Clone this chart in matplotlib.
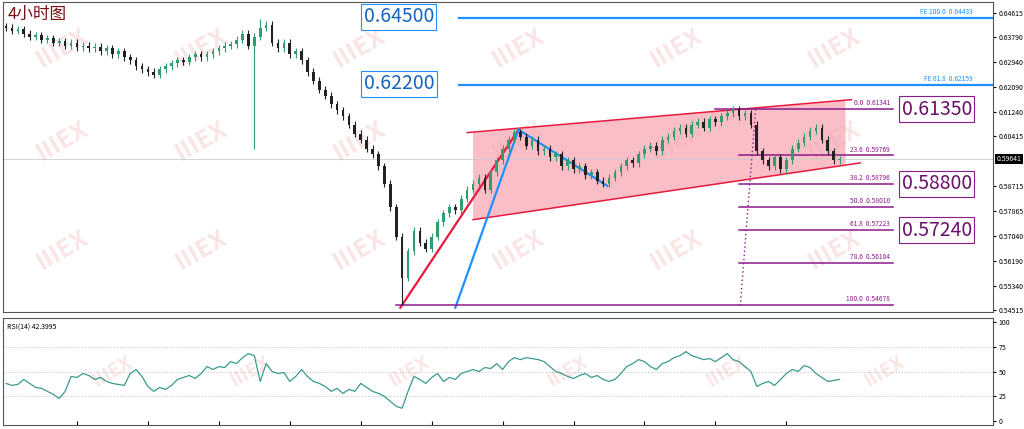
"""4-hour candle chart with channel, Fibonacci levels and RSI panel."""

import matplotlib
matplotlib.use("Agg")
import matplotlib.pyplot as plt
from matplotlib.patches import Polygon

plt.rcParams["font.family"] = ["Noto Sans CJK SC", "DejaVu Sans"]

closes = [
    0.641, 0.640, 0.6405, 0.639, 0.638, 0.6385, 0.637, 0.6375,
    0.636, 0.6365, 0.635, 0.636, 0.6345, 0.635, 0.634, 0.6345,
    0.633, 0.634, 0.632, 0.633, 0.631, 0.630, 0.628, 0.627, 0.626, 0.625,
    0.627, 0.628, 0.629, 0.630, 0.6295, 0.631, 0.632,
    0.631, 0.632, 0.633, 0.634, 0.635, 0.6355, 0.637,
    0.639, 0.635, 0.638, 0.641, 0.642,
    0.636, 0.634, 0.636, 0.632, 0.633, 0.630,
    0.626, 0.623, 0.620, 0.618, 0.615, 0.613,
    0.611, 0.608, 0.605, 0.603, 0.600, 0.598,
    0.594, 0.588, 0.580, 0.570,
    0.556, 0.565, 0.572, 0.568, 0.566, 0.570, 0.575, 0.578, 0.580, 0.579,
    0.583, 0.586, 0.588, 0.590, 0.586, 0.592, 0.596, 0.600, 0.603, 0.6055,
    0.604, 0.601, 0.603, 0.599, 0.600, 0.597, 0.598, 0.594, 0.596,
    0.593, 0.594, 0.591, 0.592, 0.589, 0.588,
    0.590, 0.592, 0.594, 0.596, 0.595, 0.598, 0.600,
    0.601, 0.599, 0.603, 0.604, 0.606, 0.607, 0.605,
    0.608, 0.609, 0.607, 0.610, 0.609, 0.611,
    0.612, 0.6134, 0.611, 0.612, 0.608,
    0.599, 0.596, 0.594, 0.597, 0.593,
    0.596, 0.600, 0.602, 0.604, 0.606,
    0.607, 0.603, 0.599, 0.596, 0.5964,
]
first_open = 0.6415
wick_spikes = {42: 0.600, 67: 0.5468, 43: 0.644}

rsi = [
    38, 36, 37, 42, 38, 34, 33, 30, 27, 23,
    30, 45, 44, 48, 46, 42, 44, 40, 38, 37,
    36, 48, 52, 45, 35, 30, 34, 32, 36, 42,
    44, 46, 43, 48, 55, 52, 55, 54, 60, 58,
    64, 68, 66, 40, 58, 50, 48, 49, 40, 45,
    52, 45, 40, 38, 35, 30, 33, 28, 32, 30,
    38, 34, 30, 28, 25, 20, 15, 13, 30, 45,
    42, 38, 44, 48, 40, 44, 42, 48, 50, 52,
    50, 54, 53, 58, 52, 60, 64, 62, 64, 63,
    62, 60, 55, 50, 48, 45, 43, 46, 48, 44,
    46, 42, 40, 42, 48, 55, 58, 62, 60, 55,
    52, 58, 60, 64, 66, 70, 66, 64, 62, 63,
    60, 64, 68, 62, 60, 55, 50, 35, 38, 40,
    36, 42, 48, 52, 50, 56, 54, 48, 44, 40,
    41, 42,
]

price_ticks = [0.64615, 0.63790, 0.62940, 0.62090, 0.61240, 0.60415,
               0.58715, 0.57865, 0.57040, 0.56190, 0.55340, 0.54515]
last_price = 0.59641

fib_ratios = [0.0, 23.6, 38.2, 50.0, 61.8, 78.6, 100.0]
fib_prices = [0.61341, 0.59769, 0.58796, 0.58010, 0.57223, 0.56104, 0.54678]
fe_labels = ["FE 100.0  0.64433", "FE 61.8  0.62159"]
fe_prices = [0.64433, 0.62159]
target_boxes = ["0.64500", "0.62200"]
fib_boxes = {0.61341: "0.61350", 0.58796: "0.58800", 0.57223: "0.57240"}

fig = plt.figure(figsize=(10.24, 4.29), dpi=100)
ax = fig.add_axes([0.003, 0.273, 0.967, 0.723])
rx = fig.add_axes([0.003, 0.009, 0.967, 0.250])

PURPLE = "#8b1a8b"
BLUE = "#1e90ff"
RED = "#e8193c"

# watermarks
for xx in [0.06, 0.2, 0.36, 0.52, 0.68, 0.84]:
    for yy in [0.2, 0.55, 0.85]:
        ax.text(xx, yy, "IIIEX", transform=ax.transAxes, fontsize=18,
                fontweight="bold", color="#f5d0d0", alpha=0.55, rotation=30,
                ha="center", va="center", zorder=0)
    rx.text(xx + 0.05, 0.5, "IIIEX", transform=rx.transAxes, fontsize=14,
            fontweight="bold", color="#f5d0d0", alpha=0.55, rotation=30,
            ha="center", va="center", zorder=0)

# channel
up = [(78, 0.6054), (143, 0.6166)]
lo = [(79, 0.5758), (144.5, 0.5951)]
ax.add_patch(Polygon([(79, 0.6054), (142, 0.6163), (142, 0.5944), (79, 0.5758)],
                     closed=True, facecolor="#f7a8b4", alpha=0.75, edgecolor="none", zorder=1))
ax.plot(*zip(*up), color=RED, lw=1.1, zorder=3)
ax.plot(*zip(*lo), color=RED, lw=1.1, zorder=3)
ax.plot([66.7, 86.7], [0.5459, 0.6064], color=RED, lw=1.6, zorder=3)
ax.plot([76, 86.7], [0.5459, 0.6064], color=BLUE, lw=1.6, zorder=3)
ax.plot([86.7, 101.7], [0.6064, 0.5873], color=BLUE, lw=1.6, zorder=3)
ax.plot([124.2, 126.8], [0.5465, 0.6134], color=PURPLE, lw=1, ls=(0, (1, 2)), zorder=3)

ax.axhline(last_price, color="#cccccc", lw=0.6, zorder=1)

# candles
opens = [first_open] + closes[:-1]
for i, (o, c) in enumerate(zip(opens, closes)):
    hi = max(o, c) + 0.0012
    lw_ = min(o, c) - 0.0012
    if i in wick_spikes:
        s = wick_spikes[i]
        hi, lw_ = max(hi, s), min(lw_, s)
    col = "#2e9e6e" if c >= o else "#222222"
    ax.vlines(i, lw_, hi, color=col, lw=0.8, zorder=4)
    ax.bar(i, abs(c - o) or 0.0003, bottom=min(o, c), width=0.45, color=col, zorder=5)

# fib levels
for r, p in zip(fib_ratios, fib_prices):
    x0 = 66 if r == 100.0 else (120 if r == 0.0 else 124)
    ax.plot([x0, 150], [p, p], color=PURPLE, lw=1.1, zorder=3)
    ax.text(149.5, p + 0.0006, f"{r:.1f}  {p:.5f}", fontsize=4.8, color=PURPLE,
            ha="right", va="bottom", zorder=6)
    if p in fib_boxes:
        ax.text(151.5, p, fib_boxes[p], fontsize=14, color="#6a0f6a", va="center",
                ha="left", zorder=7,
                bbox=dict(boxstyle="square,pad=0.12", fc="white", ec=PURPLE, lw=0.8))

for lab, p, box in zip(fe_labels, fe_prices, target_boxes):
    ax.axhline(p, xmin=0.46, color=BLUE, lw=1.6, zorder=3)
    ax.text(163.5, p + 0.0006, lab, fontsize=4.8, color=BLUE, ha="right", va="bottom")
    ax.text(60.5, p + 0.0004, box, fontsize=14, color="#1565c0", va="center", ha="left",
            zorder=7, bbox=dict(boxstyle="square,pad=0.12", fc="white", ec=BLUE, lw=0.8))

ax.text(0.005, 0.985, "4小时图", transform=ax.transAxes, fontsize=12,
        color="#7a1010", va="top", ha="left", family=["Noto Sans CJK SC", "DejaVu Sans"])

ax.set_xlim(-0.5, 167)
ax.set_ylim(0.54447, 0.64989)
ax.yaxis.tick_right()
ax.set_yticks(price_ticks)
ax.set_yticklabels([f"{t:.5f}" for t in price_ticks], fontsize=5)
ax.set_xticks([])
ax.tick_params(axis="y", length=2, pad=2)
ax.text(1.003, (last_price - 0.54447) / (0.64989 - 0.54447), f"{last_price:.5f}",
        transform=ax.transAxes, fontsize=5, color="white", va="center", ha="left",
        bbox=dict(boxstyle="square,pad=0.2", fc="black", ec="none"))

# RSI panel
rx.plot(range(len(rsi)), rsi, color="#3a9a8e", lw=0.9, zorder=3)
for lvl in (25, 50, 75):
    rx.axhline(lvl, color="#bbbbbb", lw=0.7, ls=(0, (1, 2)))
rx.set_xlim(-0.5, 167)
rx.set_ylim(-4, 104)
rx.yaxis.tick_right()
rx.set_yticks([0, 25, 50, 75, 100])
rx.set_yticklabels(["0", "25", "50", "75", "100"], fontsize=5)
rx.tick_params(axis="y", length=2, pad=2)
rx.set_xticks(range(12, 142, 12))
rx.set_xticklabels([])
rx.tick_params(axis="x", length=3, direction="in")
rx.text(0.004, 0.95, "RSI(14) 42.3995", transform=rx.transAxes, fontsize=5,
        va="top", ha="left")

for a in (ax, rx):
    for s in a.spines.values():
        s.set_linewidth(0.8)
        s.set_color("#555555")

fig.savefig("out.png", dpi=100)
